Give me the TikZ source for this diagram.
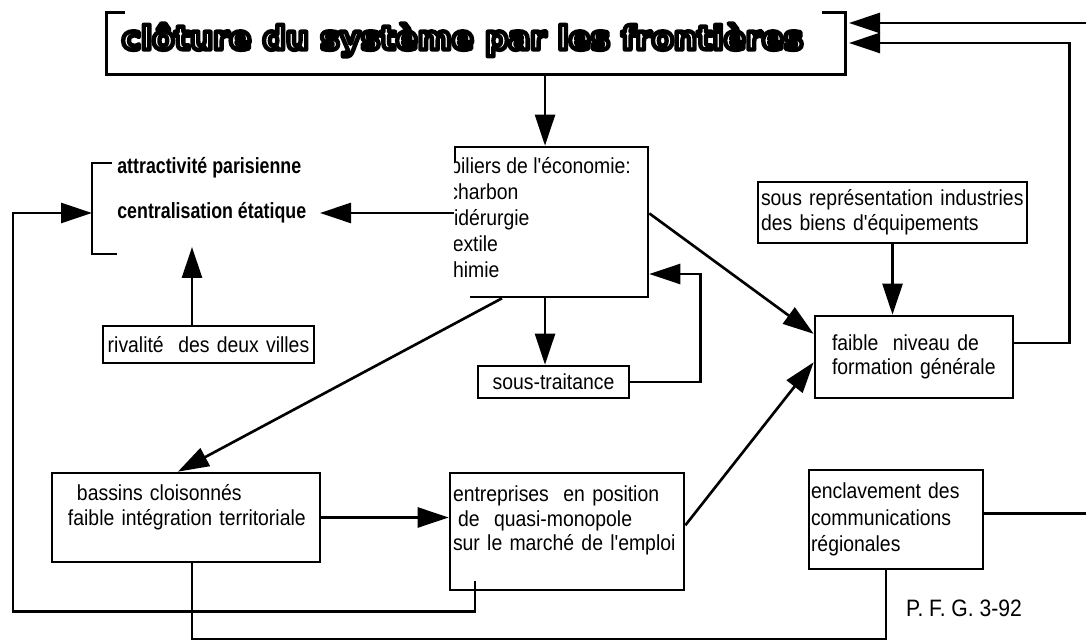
\documentclass[tikz,border=0pt]{standalone}
\usepackage{fontspec}
\newfontfamily\corps[FakeStretch=0.89]{Liberation Sans}
\newfontfamily\attrfont[FakeStretch=0.81]{Liberation Sans}
\newfontfamily\titrefont{DejaVu Sans}
\newcommand\detoure[1]{{\color{white}\special{pdf:literal direct 1 j 2.5 w 0 G 2 Tr}#1\special{pdf:literal direct 0 Tr}}}
\usepackage{tikz}
\usetikzlibrary{arrows.meta,calc}

\begin{document}
\begin{tikzpicture}[x=1cm,y=1cm,>={Triangle[length=0.62cm,width=0.4cm]},
  line/.style={line width=1.5pt},
  bx/.style={draw,line width=1.5pt,align=left,inner ysep=0pt,
             font=\corps\fontsize{12.4}{14}\selectfont}]
  \useasboundingbox (0,0) rectangle (21.72,12.8);

  \node[minimum width=14.76cm,minimum height=1.22cm,inner sep=0pt](titre) at (9.52,11.93) {};
  \node[font={\titrefont\bfseries\fontsize{18.5}{22}\selectfont}](titretxt) at (9.25,12.0)
    {\detoure{clôture du système par les frontières}};
  \draw[line] ($(titre.north west)+(0.36,0)$) -- (titre.north west) -- (titre.south west)
    -- (titre.south east) -- (titre.north east) -- ++(-0.46,0);

  \node[bx,minimum width=3.86cm,minimum height=3.0cm](pil) at (11.03,8.36) {};
  \fill[white] (9.06,9.56) rectangle (9.4,6.8);
  \begin{scope}
    \clip (9.09,9.8) rectangle (12.9,6.9);
    \node[anchor=north west,inner sep=0pt,align=left,font=\corps\fontsize{12.4}{14.8}\selectfont](piltxt) at (9.0,9.66)
      {piliers de l'économie:\\\hspace*{-0.04cm}charbon\\\hspace*{-0.12cm}sidérurgie\\\hspace*{-0.06cm}textile\\\hspace*{-0.14cm}chimie};
  \end{scope}

  \node[anchor=west,inner sep=0pt,align=left,font={\attrfont\bfseries\fontsize{12.5}{25.6}\selectfont}](attr) at (2.34,8.99)
    {attractivité parisienne\\centralisation étatique};
  \draw[line] ($(attr.west)+(-0.1,0.55)$) -| ($(attr.west)+(-0.5,-1.27)$) -- ($(attr.west)+(0,-1.27)$);

  \node[bx,text width=5.26cm,inner xsep=0.06cm,minimum height=1.22cm](sousrep) at (17.85,8.55)
    {sous représentation industries\\des biens d'équipements};
  \node[bx,text width=3.28cm,inner xsep=0.34cm,minimum height=1.64cm,font=\corps\fontsize{12.4}{13.4}\selectfont](faible) at (18.28,5.66)
    {faible~ niveau de\\formation générale};
  \node[bx,align=center,text width=3.02cm,inner xsep=0pt,minimum height=0.64cm](sous) at (11.07,5.16) {sous-traitance};
  \node[bx,align=center,text width=4.22cm,inner xsep=0pt,minimum height=0.74cm](riv) at (4.17,5.91) {rivalité~ des deux villes};
  \node[bx,text width=5.2cm,inner xsep=0.08cm,minimum height=1.78cm,text depth=28pt](bas) at (3.72,2.45)
    {\hspace*{0.42cm}bassins cloisonnés\\\hspace*{0.24cm}faible intégration territoriale};
  \node[bx,text width=4.56cm,inner xsep=0.06cm,minimum height=2.34cm,text depth=43pt](ent) at (11.34,2.17)
    {entreprises~ en position\\\hspace*{0.1cm}de~ quasi-monopole\\sur le marché de l'emploi};
  \node[bx,text width=3.4cm,inner xsep=0.04cm,minimum height=1.98cm,font=\corps\fontsize{12.4}{15}\selectfont](encl) at (17.92,2.41)
    {enclavement des\\communications\\régionales};
  \node[font=\corps\fontsize{13.5}{16}\selectfont](pfg) at (19.28,0.64) {P. F. G. 3-92};

  \coordinate (attrG) at (1.84,8.54);
  \coordinate (attrD) at (6.4,8.54);
  \coordinate (attrB) at (3.84,7.86);
  \coordinate (pilN) at ($(pil.north)+(-0.13,0)$);
  \coordinate (titreH) at (16.98,12.34);
  \coordinate (titreM) at (16.98,11.94);
  \coordinate (horsH) at (21.9,12.34);
  \coordinate (horsB) at (21.9,2.52);

  \draw[line,->] (pilN |- titre.south) -- (pilN);
  \draw[line,->] (pil.south -| pilN) -- (sous.north -| pilN);
  \draw[line,->] (pil.west |- attrD) -- (attrD);
  \draw[line,->] (riv.north -| attrB) -- (attrB);
  \draw[line,->] ($(ent.south)+(-1.84,0.2)$) -- ++(0,-0.6) -| (0.26,8.54) -- (attrG);
  \draw[line,->] (pil.237) -- (bas.100);
  \draw[line,->] (pil.5) -- (faible.167);
  \draw[line,->] (ent.3) -- (faible.183);
  \draw[line,->] (bas.east) -- (bas.east -| ent.west);
  \draw[line,->] (sousrep.south) -- (sousrep.south |- faible.north);
  \draw[line,->] (sous.east) -- ++(1.4,0) |- (pil.332);
  \draw[line,->] (faible.8) -- ++(1.1,0) |- (titreM);
  \draw[line,->] (horsH) -- (titreH);
  \draw[line] (encl.4) -- (encl.4 -| horsB);
  \draw[line] ($(bas.south)+(0.12,0)$) -- ++(0,-1.52) -| ($(encl.south)+(-0.2,0)$);
\end{tikzpicture}
\end{document}
